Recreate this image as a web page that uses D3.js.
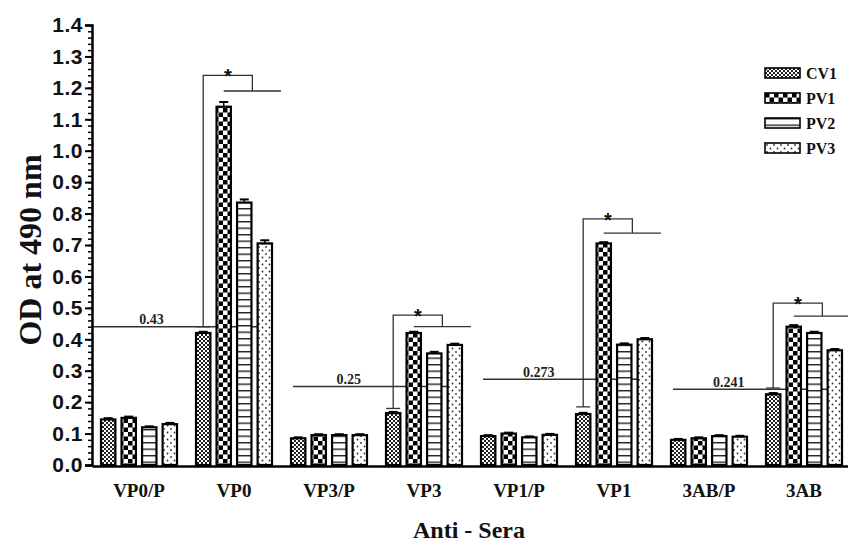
<!DOCTYPE html>
<html lang="en">
<head>
<meta charset="UTF-8">
<title>OD at 490 nm - Anti-Sera</title>
<style>
  body { margin: 0; background: #fff; }
  svg { display: block; }
  .tick-y text { font-family: "Liberation Sans", Arial, sans-serif; font-weight: bold; font-size: 21px; letter-spacing: 0.5px; fill: #111; }
  .cat text { font-family: "Liberation Serif", "Times New Roman", serif; font-weight: bold; font-size: 19px; fill: #111; }
  .title { font-family: "Liberation Serif", "Times New Roman", serif; font-weight: bold; fill: #111; }
  .cut { font-family: "Liberation Serif", "Times New Roman", serif; font-weight: bold; font-size: 14px; fill: #222; }
  .leg { font-family: "Liberation Serif", "Times New Roman", serif; font-weight: bold; font-size: 16px; fill: #111; }
</style>
</head>
<body>
<svg id="chart" width="848" height="560"></svg>
<script src="https://d3js.org/d3.v7.min.js"></script>
<script>
// data
const categories = ["VP0/P", "VP0", "VP3/P", "VP3", "VP1/P", "VP1", "3AB/P", "3AB"];
const series = ["CV1", "PV1", "PV2", "PV3"];
const cv1 = [0.145, 0.42, 0.085, 0.165, 0.092, 0.162, 0.08, 0.225];
const pv1 = [0.15, 1.14, 0.095, 0.42, 0.1, 0.705, 0.085, 0.44];
const pv2 = [0.12, 0.835, 0.095, 0.355, 0.088, 0.383, 0.092, 0.42];
const pv3 = [0.13, 0.705, 0.095, 0.382, 0.096, 0.4, 0.09, 0.365];
const errCv1 = [0.004, 0.004, 0.003, 0.004, 0.003, 0.004, 0.003, 0.004];
const errPv1 = [0.004, 0.015, 0.003, 0.004, 0.003, 0.004, 0.003, 0.005];
const errPv2 = [0.003, 0.01, 0.003, 0.005, 0.003, 0.004, 0.003, 0.004];
const errPv3 = [0.004, 0.01, 0.003, 0.004, 0.003, 0.004, 0.003, 0.004];

// cut-off lines: drawn level, printed label, pair of groups they span
const cutValues = [0.44, 0.25, 0.273, 0.241];
const cutLabels = ["0.43", "0.25", "0.273", "0.241"];
const cutGroups = [["VP0/P", "VP0"], ["VP3/P", "VP3"], ["VP1/P", "VP1"], ["3AB/P", "3AB"]];

// significance brackets
const sigGroups = ["VP0", "VP3", "VP1", "3AB"];
const sigCap = [0.44, 0.18, 0.185, 0.245];
const sigLow = [1.19, 0.44, 0.738, 0.474];
const sigTop = [1.24, 0.477, 0.783, 0.515];

const yTicks = [0, 0.1, 0.2, 0.3, 0.4, 0.5, 0.6, 0.7, 0.8, 0.9, 1.0, 1.1, 1.2, 1.3, 1.4];

const values = [cv1, pv1, pv2, pv3];
const errors = [errCv1, errPv1, errPv2, errPv3];

const svg = d3.select("#chart");
const plotLeft = 92, plotTop = 25, plotBottom = 465;

const y = d3.scaleLinear().domain([0, 1.4]).range([plotBottom, plotTop]);
const x0 = d3.scaleBand().domain(categories).range([plotLeft, plotLeft + 95 * 8]);
const x1 = d3.scaleBand().domain(series).range([9, 85]).paddingInner(0.3);

// patterns
const defs = svg.append("defs");
const p1 = defs.append("pattern").attr("id", "pat-CV1").attr("patternUnits", "userSpaceOnUse")
  .attr("width", 4).attr("height", 4);
p1.append("rect").attr("width", 4).attr("height", 4).attr("fill", "#fff");
p1.append("rect").attr("width", 2).attr("height", 2).attr("fill", "#222");
p1.append("rect").attr("x", 2).attr("y", 2).attr("width", 2).attr("height", 2).attr("fill", "#222");

const p2 = defs.append("pattern").attr("id", "pat-PV1").attr("patternUnits", "userSpaceOnUse")
  .attr("width", 9).attr("height", 9);
p2.append("rect").attr("width", 9).attr("height", 9).attr("fill", "#fff");
p2.append("rect").attr("width", 4.5).attr("height", 4.5).attr("fill", "#000");
p2.append("rect").attr("x", 4.5).attr("y", 4.5).attr("width", 4.5).attr("height", 4.5).attr("fill", "#000");

const p3 = defs.append("pattern").attr("id", "pat-PV2").attr("patternUnits", "userSpaceOnUse")
  .attr("width", 6).attr("height", 6.5);
p3.append("rect").attr("width", 6).attr("height", 6.5).attr("fill", "#fff");
p3.append("rect").attr("y", 0).attr("width", 6).attr("height", 1.4).attr("fill", "#222");

const p4 = defs.append("pattern").attr("id", "pat-PV3").attr("patternUnits", "userSpaceOnUse")
  .attr("width", 7).attr("height", 7);
p4.append("rect").attr("width", 7).attr("height", 7).attr("fill", "#fff");
p4.append("circle").attr("cx", 2).attr("cy", 2).attr("r", 0.9).attr("fill", "#333");
p4.append("circle").attr("cx", 5.5).attr("cy", 5.5).attr("r", 0.9).attr("fill", "#333");

// cut-off lines (behind bars)
cutValues.forEach((v, i) => {
  const xs = i === 0 ? plotLeft : x0(cutGroups[i][0]) + 11;
  const xe = x0(cutGroups[i][1]) + 85;
  svg.append("line").attr("x1", xs).attr("x2", xe).attr("y1", y(v)).attr("y2", y(v))
    .attr("stroke", "#333").attr("stroke-width", 1.4);
  svg.append("text").attr("class", "cut").attr("x", xs + (xe - xs) * 0.33).attr("y", y(v) - 2.5)
    .attr("text-anchor", "middle").text(cutLabels[i]);
});

// bars
const groups = svg.append("g").selectAll("g").data(categories).join("g")
  .attr("transform", d => `translate(${x0(d)},0)`);

series.forEach((s, si) => {
  groups.append("rect")
    .attr("x", x1(s)).attr("width", x1.bandwidth())
    .attr("y", (d, i) => y(values[si][i]))
    .attr("height", (d, i) => y(0) - y(values[si][i]))
    .attr("fill", `url(#pat-${s})`)
    .attr("stroke", "#000").attr("stroke-width", 2.2);
  // error bars
  groups.append("line")
    .attr("x1", x1(s) + x1.bandwidth() / 2).attr("x2", x1(s) + x1.bandwidth() / 2)
    .attr("y1", (d, i) => y(values[si][i])).attr("y2", (d, i) => y(values[si][i] + errors[si][i]))
    .attr("stroke", "#000").attr("stroke-width", 1.5);
  groups.append("line")
    .attr("x1", x1(s) + x1.bandwidth() / 2 - 4.5).attr("x2", x1(s) + x1.bandwidth() / 2 + 4.5)
    .attr("y1", (d, i) => y(values[si][i] + errors[si][i])).attr("y2", (d, i) => y(values[si][i] + errors[si][i]))
    .attr("stroke", "#000").attr("stroke-width", 2);
});

// significance brackets
sigGroups.forEach((g, i) => {
  const gx = x0(g);
  const cx = gx + x1("CV1") + x1.bandwidth() / 2;
  const lowStart = gx + x1("PV1") + x1.bandwidth() / 2;
  const lowEnd = gx + x1("PV3") + x1.bandwidth() + 9;
  const mid = (lowStart + lowEnd) / 2;
  const b = svg.append("g").attr("stroke", "#333").attr("stroke-width", 1.3).attr("fill", "none");
  b.append("line").attr("x1", cx - 7).attr("x2", cx + 7).attr("y1", y(sigCap[i])).attr("y2", y(sigCap[i]));
  b.append("path").attr("d", `M${cx},${y(sigCap[i])}V${y(sigTop[i])}H${mid}V${y(sigLow[i])}`);
  b.append("line").attr("x1", lowStart).attr("x2", lowEnd).attr("y1", y(sigLow[i])).attr("y2", y(sigLow[i]));
  svg.append("text").attr("x", (cx + mid) / 2).attr("y", y(sigTop[i]) + 8)
    .attr("text-anchor", "middle").attr("font-family", "Liberation Sans, Arial, sans-serif")
    .attr("font-weight", "bold").attr("font-size", 20).attr("fill", "#111").text("*");
});

// y axis
const yAxis = svg.append("g").attr("class", "tick-y").attr("transform", `translate(${plotLeft},0)`)
  .call(d3.axisLeft(y).tickValues(yTicks).tickFormat(d3.format(".1f")).tickSize(7).tickPadding(2));
yAxis.selectAll("line").attr("stroke", "#000").attr("stroke-width", 2);
yAxis.select(".domain").attr("stroke", "#000").attr("stroke-width", 2.5);
svg.append("g").attr("transform", `translate(${plotLeft},0)`)
  .call(d3.axisLeft(y).tickValues(d3.range(0, 71).map(k => k * 0.02)).tickSize(4).tickFormat(""))
  .call(g => g.select(".domain").remove())
  .selectAll("line").attr("stroke", "#000").attr("stroke-width", 1.5);

// x axis
const xAxis = svg.append("g").attr("class", "cat").attr("transform", `translate(0,${plotBottom + 1})`)
  .call(d3.axisBottom(x0).tickSize(0).tickPadding(18).tickSizeOuter(0));
xAxis.select(".domain").attr("stroke", "#000").attr("stroke-width", 2.5);
xAxis.selectAll(".tick").attr("transform", d => `translate(${x0(d) + 47},0)`);

// titles
svg.append("text").attr("class", "title").attr("font-size", 24)
  .attr("x", 469).attr("y", 538).attr("text-anchor", "middle").text("Anti - Sera");
svg.append("text").attr("class", "title").attr("font-size", 32)
  .attr("transform", "translate(41,250) rotate(-90)").attr("text-anchor", "middle").text("OD at 490 nm");

// legend
const legend = svg.append("g").attr("transform", "translate(765,68)");
series.forEach((s, i) => {
  const row = legend.append("g").attr("transform", `translate(0,${i * 25})`);
  row.append("rect").attr("width", 35).attr("height", 10).attr("fill", `url(#pat-${s})`)
    .attr("stroke", "#000").attr("stroke-width", 1.6);
  row.append("text").attr("class", "leg").attr("x", 41).attr("y", 11).text(s);
});
</script>
</body>
</html>
